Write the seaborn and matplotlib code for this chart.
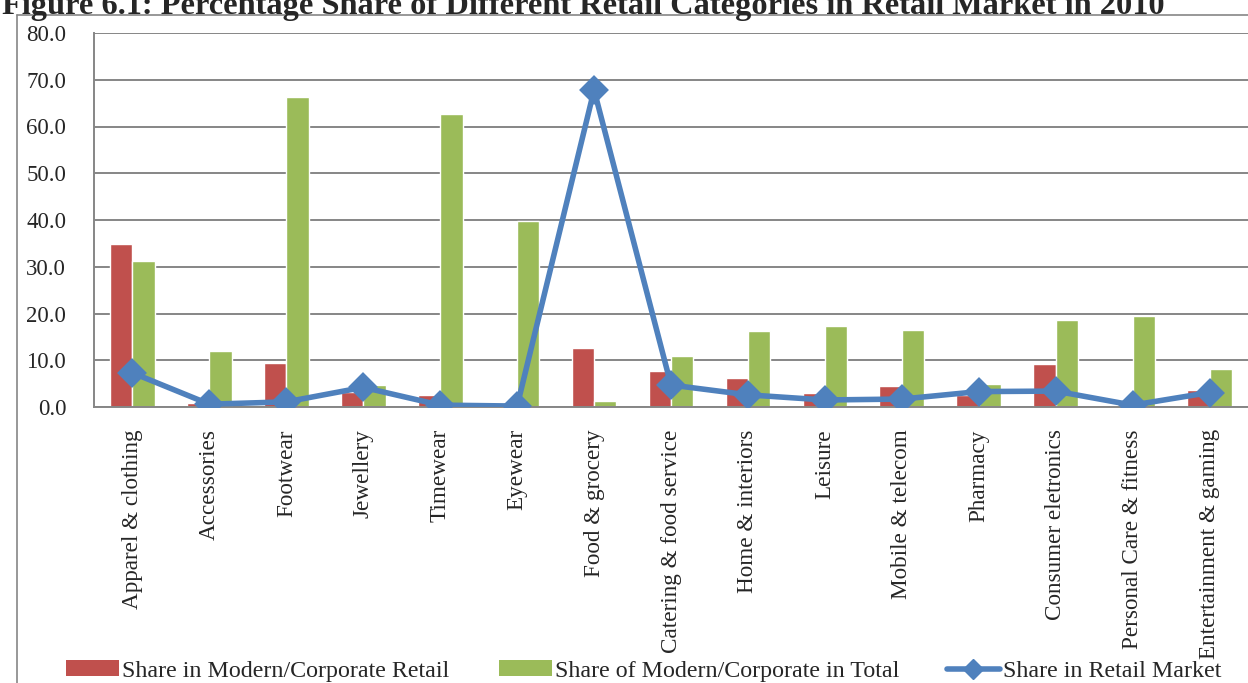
import matplotlib
matplotlib.use("Agg")
import matplotlib.pyplot as plt
from matplotlib.lines import Line2D
from matplotlib.patches import Patch
import numpy as np
import pandas as pd
import seaborn as sns

categories = [
    "Apparel & clothing", "Accessories", "Footwear", "Jewellery", "Timewear",
    "Eyewear", "Food & grocery", "Catering & food service", "Home & interiors",
    "Leisure", "Mobile & telecom", "Pharmacy", "Consumer eletronics",
    "Personal Care & fitness", "Entertainment & gaming",
]
share_modern_retail = [34.9, 0.8, 9.4, 3.2, 2.6, 0.1, 12.6, 7.8, 6.1, 3.0, 4.5, 2.6, 9.3, 0.3, 3.6]
share_modern_in_total = [31.2, 12.0, 66.3, 4.7, 62.7, 39.8, 1.3, 10.9, 16.3, 17.3, 16.5, 4.9, 18.6, 19.5, 8.1]
share_retail_market = [7.3, 0.6, 1.1, 4.2, 0.4, 0.2, 67.8, 4.7, 2.6, 1.5, 1.7, 3.3, 3.4, 0.4, 3.1]

series_bars = ["Share in Modern/Corporate Retail", "Share of Modern/Corporate in Total"]
series_line = "Share in Retail Market"
title = "Figure 6.1: Percentage Share of Different Retail Categories in Retail Market in 2010"

RED = "#C0504D"
GREEN = "#9BBB59"
BLUE = "#4F81BD"
GRID = "#868686"

sns.set_style("white")
plt.rcParams["font.family"] = ["Liberation Serif", "DejaVu Serif"]

bars = pd.DataFrame({
    "category": categories * 2,
    "series": [series_bars[0]] * len(categories) + [series_bars[1]] * len(categories),
    "value": share_modern_retail + share_modern_in_total,
})

W, H = 1248, 683
fig = plt.figure(figsize=(W / 100, H / 100), dpi=100)
ax = fig.add_axes([94 / W, 1 - 407 / H, 1 - 94 / W, (407 - 33) / H])

sns.barplot(data=bars, x="category", y="value", hue="series", order=categories,
            hue_order=series_bars, palette=[RED, GREEN], width=0.58,
            saturation=1, legend=False, ax=ax, zorder=2)
sns.pointplot(x=categories, y=share_retail_market, order=categories, color=BLUE,
              markers="D", markersize=12.5, linewidth=4, errorbar=None, ax=ax)
for coll in ax.collections:
    coll.set_zorder(4)
for ln in ax.lines:
    ln.set_zorder(4)

ax.set_xlim(-0.5, len(categories) - 0.5)
ax.set_ylim(0, 80)
ax.set_yticks(np.arange(0, 81, 10))
ax.set_yticklabels([f"{v:.1f}" for v in np.arange(0, 81, 10)], fontsize=16.5)
ax.yaxis.grid(True, color=GRID, linewidth=1.4, zorder=0)
ax.set_axisbelow(True)
ax.set_xlabel("")
ax.set_ylabel("")

ax.set_xticks(range(len(categories)))
ax.set_xticklabels(categories, rotation=90, fontsize=16.7)
ax.set_xticks(np.arange(-0.5, len(categories), 1), minor=True)
ax.tick_params(axis="x", which="major", length=0, pad=16)
ax.tick_params(axis="x", which="minor", length=6, width=1.2, color=GRID, direction="out")
ax.tick_params(axis="y", length=6, width=1.2, color=GRID, direction="out", pad=14)

for side in ["top", "right"]:
    ax.spines[side].set_visible(False)
for side in ["left", "bottom"]:
    ax.spines[side].set_color(GRID)
    ax.spines[side].set_linewidth(1.4)

# outer frame of the chart area
fig.add_artist(Line2D([17 / W, 17 / W], [0, 1 - 15 / H], transform=fig.transFigure,
                      color=GRID, linewidth=1.2))
fig.add_artist(Line2D([17 / W, 1], [1 - 15 / H, 1 - 15 / H], transform=fig.transFigure,
                      color=GRID, linewidth=1.2))

fig.text(2 / W, 1 - 14 / H, title, fontsize=23.3, fontweight="bold",
         ha="left", va="baseline")

# legend entries, each placed along the bottom edge
entries = [
    (Patch(facecolor=RED, edgecolor="none"), series_bars[0], 66),
    (Patch(facecolor=GREEN, edgecolor="none"), series_bars[1], 499),
    (Line2D([0], [0], color=BLUE, linewidth=4, marker="D", markersize=10), series_line, 947),
]
for handle, label, x0 in entries:
    fig.legend([handle], [label], loc="center left", bbox_to_anchor=(x0 / W, 1 - 671 / H),
               frameon=False, fontsize=17.3, handlelength=2.2, handleheight=0.6,
               handletextpad=0.15, borderpad=0, borderaxespad=0)

fig.savefig("out.png", dpi=100)
